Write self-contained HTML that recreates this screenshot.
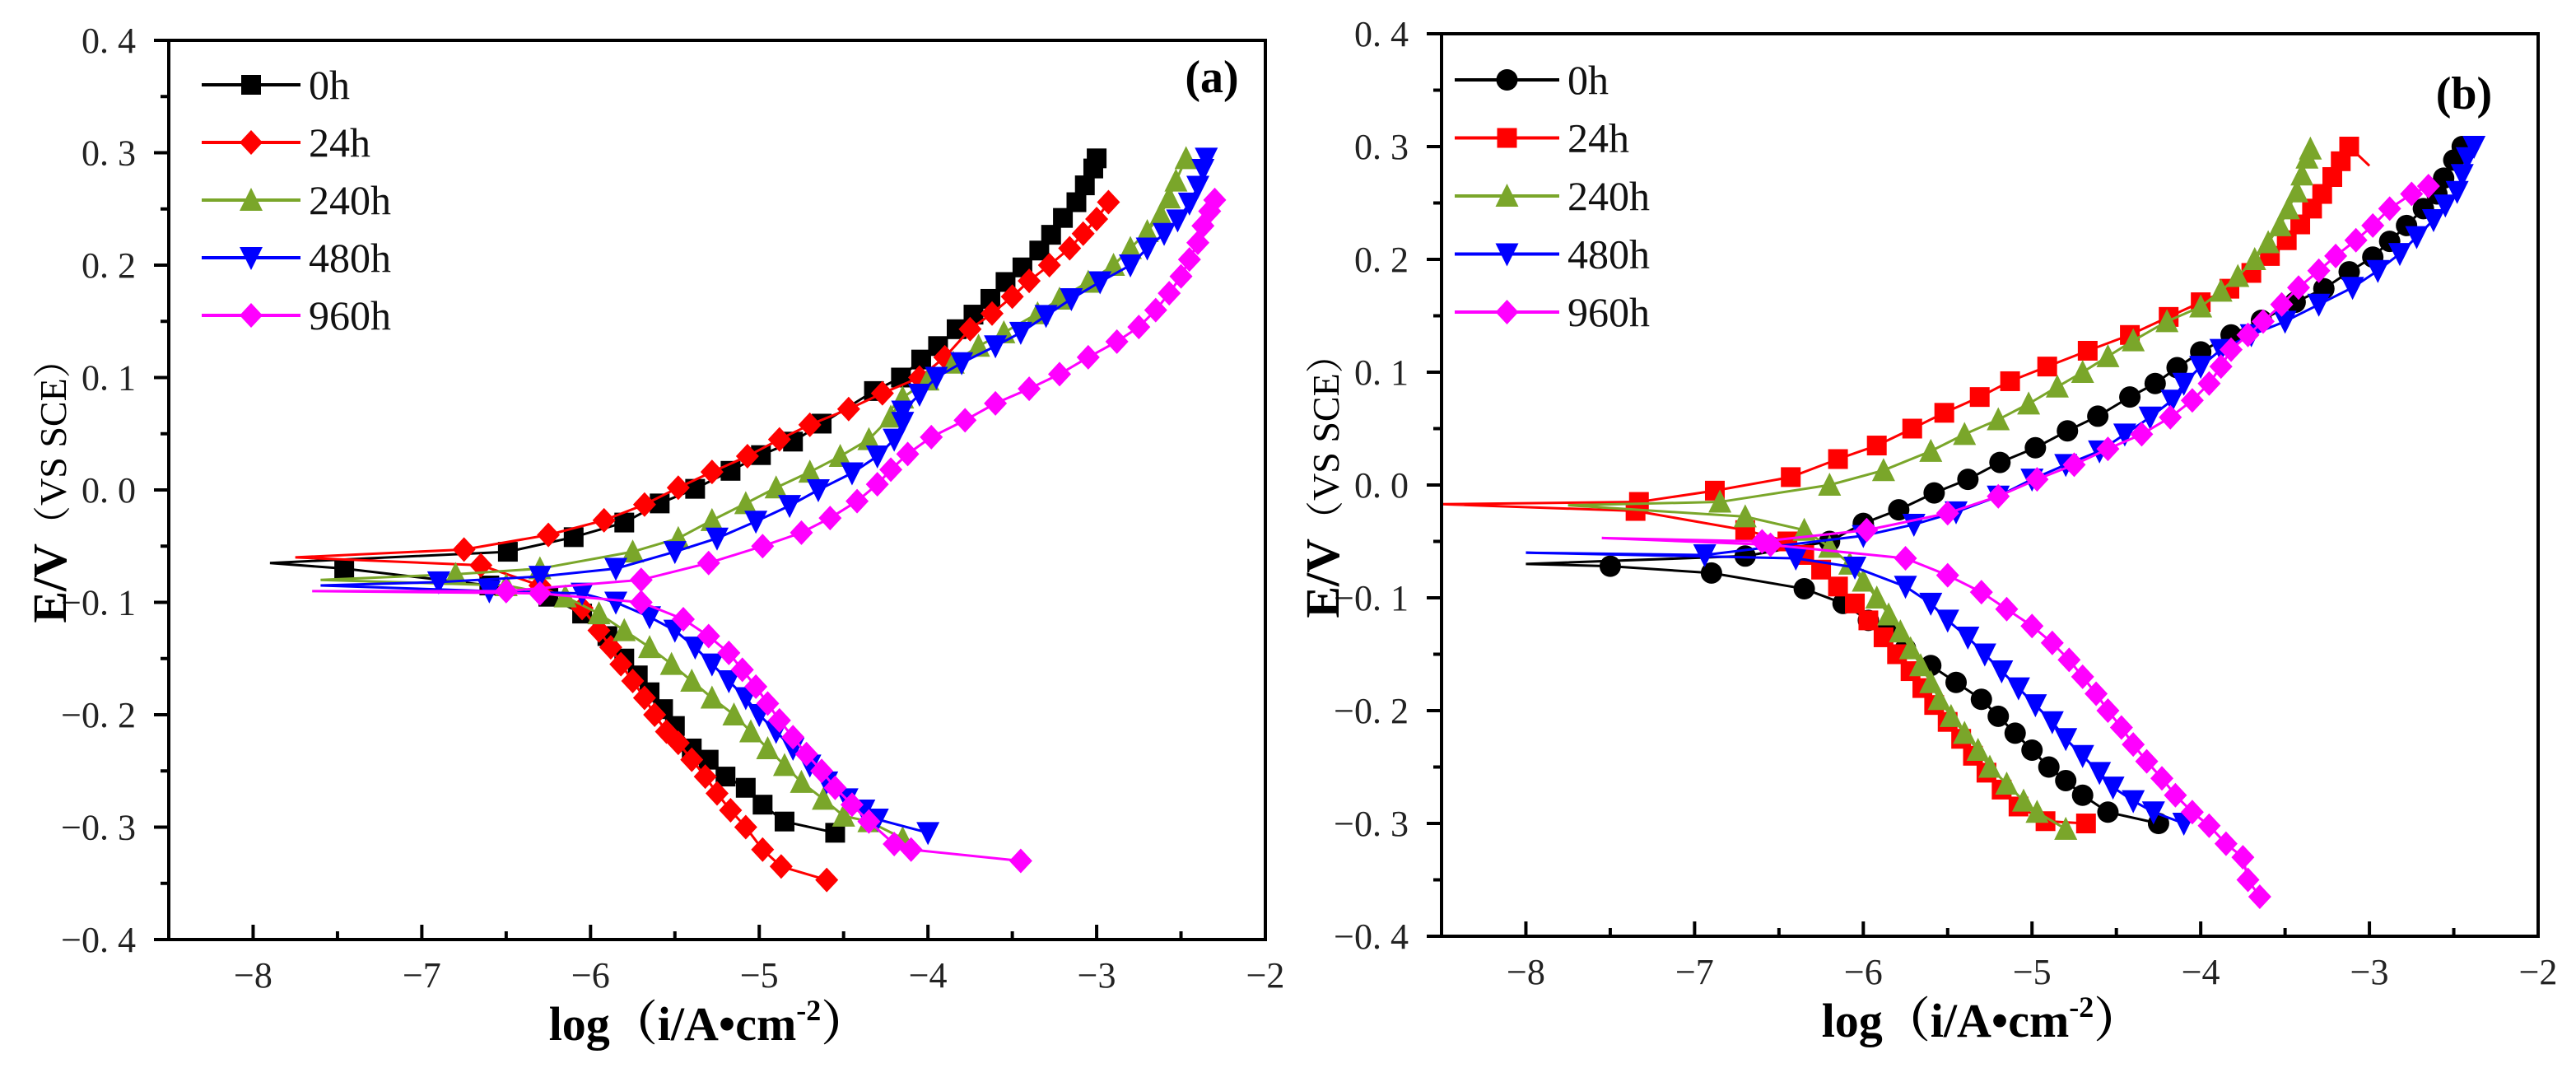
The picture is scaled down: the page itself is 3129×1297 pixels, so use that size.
<!DOCTYPE html>
<html><head><meta charset="utf-8"><style>
html,body{margin:0;padding:0;background:#fff;}
svg{display:block;font-family:"Liberation Serif","Noto Serif CJK SC",serif;}
</style></head><body>
<svg id="fig" width="3129" height="1297" viewBox="0 0 3129 1297" xmlns="http://www.w3.org/2000/svg"></svg>
<script>
// ---- data (log i, E) ----
const xTicks = [-8,-7,-6,-5,-4,-3,-2];
const yTicks = [-0.4,-0.3,-0.2,-0.1,0.0,0.1,0.2,0.3,0.4];
const yTickLabels = ["\u22120. 4","\u22120. 3","\u22120. 2","\u22120. 1","0. 0","0. 1","0. 2","0. 3","0. 4"];
const xTickLabels = ["\u22128","\u22127","\u22126","\u22125","\u22124","\u22123","\u22122"];
const seriesNames = ["0h","24h","240h","480h","960h"];

const a0h = [[-4.55,-0.305],[-4.85,-0.295],[-4.98,-0.28],[-5.08,-0.265],[-5.2,-0.255],[-5.3,-0.24],[-5.4,-0.23],[-5.5,-0.21],[-5.57,-0.195],[-5.65,-0.18],[-5.72,-0.165],[-5.8,-0.15],[-5.9,-0.13],[-6.05,-0.11],[-6.25,-0.095],[-6.6,-0.085],[-7.46,-0.07],[-7.9,-0.065],[-6.49,-0.055],[-6.1,-0.042],[-5.8,-0.029],[-5.59,-0.012],[-5.38,0.001],[-5.17,0.017],[-4.99,0.031],[-4.8,0.043],[-4.63,0.059],[-4.32,0.088],[-4.16,0.1],[-4.04,0.116],[-3.94,0.128],[-3.83,0.143],[-3.73,0.156],[-3.63,0.17],[-3.54,0.185],[-3.44,0.198],[-3.34,0.213],[-3.27,0.227],[-3.2,0.242],[-3.12,0.256],[-3.07,0.271],[-3.02,0.286],[-3.0,0.295]];
const a24h = [[-4.6,-0.347],[-4.87,-0.335],[-4.98,-0.32],[-5.08,-0.3],[-5.17,-0.285],[-5.25,-0.27],[-5.32,-0.255],[-5.4,-0.24],[-5.48,-0.225],[-5.55,-0.215],[-5.62,-0.2],[-5.68,-0.185],[-5.75,-0.17],[-5.82,-0.155],[-5.88,-0.14],[-5.95,-0.125],[-6.05,-0.105],[-6.3,-0.085],[-6.65,-0.067],[-7.75,-0.06],[-6.75,-0.053],[-6.25,-0.04],[-5.92,-0.027],[-5.68,-0.013],[-5.48,0.002],[-5.28,0.016],[-5.07,0.03],[-4.88,0.045],[-4.7,0.058],[-4.47,0.072],[-4.27,0.086],[-4.05,0.1],[-3.9,0.118],[-3.75,0.143],[-3.62,0.157],[-3.5,0.172],[-3.4,0.186],[-3.28,0.2],[-3.16,0.215],[-3.08,0.228],[-3.0,0.241],[-2.93,0.256]];
const a240h = [[-4.15,-0.31],[-4.35,-0.295],[-4.5,-0.29],[-4.62,-0.275],[-4.75,-0.26],[-4.85,-0.245],[-4.95,-0.23],[-5.05,-0.215],[-5.15,-0.2],[-5.28,-0.185],[-5.4,-0.17],[-5.52,-0.155],[-5.65,-0.14],[-5.8,-0.125],[-5.95,-0.11],[-6.15,-0.095],[-6.5,-0.085],[-7.6,-0.08],[-6.8,-0.075],[-6.3,-0.07],[-5.75,-0.055],[-5.48,-0.043],[-5.28,-0.027],[-5.08,-0.012],[-4.9,0.002],[-4.7,0.016],[-4.52,0.03],[-4.35,0.045],[-4.22,0.065],[-4.15,0.082],[-4.0,0.098],[-3.85,0.113],[-3.7,0.128],[-3.55,0.14],[-3.35,0.157],[-3.22,0.17],[-3.05,0.185],[-2.9,0.2],[-2.8,0.215],[-2.7,0.23],[-2.62,0.245],[-2.57,0.26],[-2.53,0.275],[-2.47,0.295]];
const a480h = [[-4.0,-0.305],[-4.3,-0.293],[-4.38,-0.285],[-4.48,-0.275],[-4.6,-0.26],[-4.7,-0.245],[-4.8,-0.23],[-4.9,-0.215],[-5.0,-0.2],[-5.08,-0.185],[-5.18,-0.17],[-5.28,-0.155],[-5.38,-0.14],[-5.5,-0.125],[-5.65,-0.113],[-5.85,-0.1],[-6.05,-0.092],[-6.6,-0.09],[-7.6,-0.085],[-6.9,-0.082],[-6.3,-0.077],[-5.85,-0.07],[-5.5,-0.055],[-5.25,-0.043],[-5.02,-0.028],[-4.82,-0.014],[-4.65,0.0],[-4.45,0.015],[-4.3,0.03],[-4.2,0.045],[-4.15,0.06],[-4.15,0.07],[-4.05,0.085],[-3.95,0.1],[-3.8,0.113],[-3.6,0.128],[-3.45,0.14],[-3.3,0.155],[-3.15,0.17],[-2.98,0.185],[-2.8,0.2],[-2.7,0.215],[-2.6,0.228],[-2.52,0.24],[-2.45,0.255],[-2.4,0.27],[-2.37,0.285],[-2.35,0.295]];
const a960h = [[-3.45,-0.33],[-4.1,-0.32],[-4.2,-0.315],[-4.35,-0.295],[-4.45,-0.28],[-4.55,-0.265],[-4.63,-0.25],[-4.72,-0.235],[-4.8,-0.22],[-4.88,-0.205],[-4.95,-0.19],[-5.02,-0.175],[-5.1,-0.16],[-5.18,-0.145],[-5.3,-0.13],[-5.45,-0.115],[-5.7,-0.1],[-6.3,-0.092],[-7.65,-0.09],[-6.5,-0.09],[-5.7,-0.08],[-5.3,-0.065],[-4.98,-0.05],[-4.75,-0.038],[-4.58,-0.025],[-4.42,-0.01],[-4.3,0.005],[-4.22,0.018],[-4.12,0.032],[-3.98,0.047],[-3.78,0.062],[-3.6,0.077],[-3.4,0.09],[-3.22,0.103],[-3.05,0.118],[-2.88,0.132],[-2.75,0.145],[-2.65,0.16],[-2.57,0.175],[-2.5,0.19],[-2.45,0.205],[-2.4,0.22],[-2.37,0.235],[-2.33,0.248],[-2.3,0.258]];

const b0h = [[-4.25,-0.3],[-4.55,-0.29],[-4.7,-0.275],[-4.8,-0.262],[-4.9,-0.25],[-5.0,-0.235],[-5.1,-0.22],[-5.2,-0.205],[-5.3,-0.19],[-5.45,-0.175],[-5.6,-0.16],[-5.75,-0.145],[-5.85,-0.13],[-5.97,-0.12],[-6.12,-0.105],[-6.35,-0.092],[-6.9,-0.078],[-7.5,-0.072],[-8.0,-0.07],[-6.7,-0.063],[-6.2,-0.05],[-6.0,-0.034],[-5.79,-0.022],[-5.58,-0.007],[-5.38,0.005],[-5.19,0.02],[-4.98,0.033],[-4.79,0.048],[-4.61,0.061],[-4.42,0.078],[-4.27,0.09],[-4.14,0.104],[-4.0,0.118],[-3.82,0.133],[-3.64,0.146],[-3.44,0.162],[-3.27,0.174],[-3.12,0.189],[-2.98,0.202],[-2.88,0.216],[-2.78,0.23],[-2.68,0.245],[-2.6,0.258],[-2.56,0.272],[-2.5,0.288],[-2.45,0.3]];
const b24h = [[-4.68,-0.3],[-4.92,-0.298],[-5.08,-0.285],[-5.18,-0.27],[-5.27,-0.255],[-5.35,-0.24],[-5.42,-0.225],[-5.5,-0.21],[-5.58,-0.195],[-5.65,-0.18],[-5.72,-0.165],[-5.8,-0.15],[-5.88,-0.135],[-5.97,-0.12],[-6.05,-0.105],[-6.15,-0.09],[-6.25,-0.075],[-6.35,-0.062],[-6.45,-0.05],[-6.7,-0.04],[-7.35,-0.023],[-8.5,-0.017],[-7.33,-0.015],[-6.88,-0.005],[-6.43,0.007],[-6.15,0.023],[-5.92,0.035],[-5.71,0.05],[-5.52,0.064],[-5.31,0.078],[-5.13,0.092],[-4.91,0.105],[-4.67,0.119],[-4.42,0.133],[-4.19,0.149],[-4.0,0.162],[-3.83,0.174],[-3.7,0.188],[-3.59,0.203],[-3.49,0.217],[-3.41,0.231],[-3.34,0.245],[-3.28,0.258],[-3.22,0.273],[-3.17,0.287],[-3.12,0.3],[-3.0,0.283]];
const b240h = [[-4.8,-0.305],[-4.97,-0.29],[-5.05,-0.28],[-5.15,-0.265],[-5.25,-0.25],[-5.32,-0.235],[-5.4,-0.22],[-5.48,-0.205],[-5.55,-0.19],[-5.6,-0.175],[-5.66,-0.16],[-5.72,-0.145],[-5.78,-0.13],[-5.85,-0.115],[-5.92,-0.1],[-6.0,-0.085],[-6.08,-0.07],[-6.2,-0.055],[-6.35,-0.04],[-6.7,-0.028],[-7.75,-0.018],[-6.85,-0.015],[-6.2,0.0],[-5.88,0.013],[-5.6,0.03],[-5.4,0.045],[-5.2,0.058],[-5.02,0.072],[-4.85,0.087],[-4.7,0.1],[-4.55,0.114],[-4.4,0.128],[-4.2,0.145],[-4.0,0.158],[-3.88,0.172],[-3.78,0.185],[-3.68,0.2],[-3.6,0.215],[-3.53,0.23],[-3.48,0.245],[-3.43,0.26],[-3.4,0.275],[-3.37,0.29],[-3.35,0.298]];
const b480h = [[-4.1,-0.3],[-4.28,-0.29],[-4.4,-0.28],[-4.52,-0.268],[-4.6,-0.255],[-4.7,-0.24],[-4.8,-0.225],[-4.88,-0.21],[-4.98,-0.195],[-5.08,-0.18],[-5.18,-0.165],[-5.28,-0.15],[-5.38,-0.135],[-5.5,-0.12],[-5.6,-0.105],[-5.75,-0.09],[-6.05,-0.073],[-6.4,-0.065],[-8.0,-0.06],[-6.94,-0.062],[-6.0,-0.045],[-5.7,-0.035],[-5.45,-0.024],[-5.2,-0.01],[-5.0,0.005],[-4.8,0.018],[-4.6,0.03],[-4.45,0.045],[-4.3,0.06],[-4.17,0.075],[-4.1,0.09],[-4.0,0.105],[-3.88,0.12],[-3.7,0.133],[-3.5,0.145],[-3.3,0.16],[-3.1,0.175],[-2.95,0.19],[-2.82,0.205],[-2.72,0.22],[-2.62,0.235],[-2.55,0.248],[-2.48,0.26],[-2.45,0.275],[-2.42,0.29],[-2.38,0.3]];
const b960h = [[-3.65,-0.365],[-3.72,-0.35],[-3.75,-0.33],[-3.85,-0.318],[-3.95,-0.302],[-4.05,-0.29],[-4.15,-0.275],[-4.23,-0.26],[-4.32,-0.245],[-4.4,-0.23],[-4.47,-0.215],[-4.55,-0.2],[-4.62,-0.185],[-4.7,-0.17],[-4.78,-0.155],[-4.88,-0.14],[-5.0,-0.125],[-5.15,-0.11],[-5.3,-0.095],[-5.5,-0.08],[-5.75,-0.065],[-6.55,-0.053],[-7.55,-0.047],[-6.6,-0.05],[-5.98,-0.04],[-5.5,-0.025],[-5.2,-0.01],[-4.97,0.005],[-4.75,0.018],[-4.55,0.032],[-4.35,0.045],[-4.18,0.06],[-4.05,0.075],[-3.95,0.09],[-3.88,0.105],[-3.82,0.12],[-3.72,0.133],[-3.63,0.145],[-3.52,0.16],[-3.42,0.175],[-3.3,0.19],[-3.2,0.203],[-3.08,0.217],[-2.98,0.23],[-2.88,0.245],[-2.75,0.258],[-2.65,0.265]];

const colors = ["#000000","#ff0000","#7aa62a","#0000ff","#ff00ff"];
const NS = "http://www.w3.org/2000/svg";
const svg = document.getElementById("fig");
function mk(tag, attrs, parent){ const e=document.createElementNS(NS,tag); for(const k in attrs) e.setAttribute(k,attrs[k]); (parent||svg).appendChild(e); return e; }

function marker(g, shape, cx, cy, color){
  const s = 13; let e;
  if(shape==="square"){ e = mk("rect",{x:cx-s+1,y:cy-s+1,width:2*s-2,height:2*s-2,fill:color},g); }
  else if(shape==="circle"){ e = mk("circle",{cx:cx,cy:cy,r:s,fill:color},g); }
  else if(shape==="up"){ e = mk("polygon",{points:`${cx},${cy-s-2} ${cx+s+1},${cy+s} ${cx-s-1},${cy+s}`,fill:color},g); }
  else if(shape==="down"){ e = mk("polygon",{points:`${cx-s-1},${cy-s} ${cx+s+1},${cy-s} ${cx},${cy+s+2}`,fill:color},g); }
  else { e = mk("polygon",{points:`${cx},${cy-s-2} ${cx+s+1},${cy} ${cx},${cy+s+2} ${cx-s-1},${cy}`,fill:color},g); }
  
  
  return e;
}

function panel(cfg){
  const {L,R,T,B,series,shapes,label,leg,id,noEnd} = cfg;
  const sx = v => L + (v - (-8.5)) / 6.5 * (R - L);
  const sy = v => B - (v - (-0.4)) / 0.8 * (B - T);
  const g = mk("g",{});
  
  
  series.forEach((pts,i)=>{
    const sg = mk("g",{},g);
    
    
    const pl = mk("polyline",{points:pts.map(p=>sx(p[0])+","+sy(p[1])).join(" "),fill:"none",stroke:colors[i],"stroke-width":3},sg);
    
    
    let minI = 0; pts.forEach((p,k)=>{ if(p[0]<pts[minI][0]) minI=k; });
    pts.forEach((p,k)=>{
      if(k===minI) return;
      if(noEnd && noEnd[i] && k===pts.length-1) return;
      marker(sg,shapes[i],sx(p[0]),sy(p[1]),colors[i]);
    });
  });
  const fr = mk("rect",{x:L,y:T,width:R-L,height:B-T,fill:"none",stroke:"#000","stroke-width":4},g);
  
  
  yTicks.forEach((v,i)=>{
    mk("line",{x1:L-18,x2:L,y1:sy(v),y2:sy(v),stroke:"#000","stroke-width":4},g);
    if(i<yTicks.length-1) mk("line",{x1:L-10,x2:L,y1:sy(v+0.05),y2:sy(v+0.05),stroke:"#000","stroke-width":4},g);
    const t = mk("text",{x:L-40,y:sy(v)+15,"text-anchor":"end","font-size":44,fill:"#222"},g);
    t.textContent = yTickLabels[i];
    
    
  });
  xTicks.forEach((v,i)=>{
    mk("line",{x1:sx(v),x2:sx(v),y1:B-18,y2:B,stroke:"#000","stroke-width":4},g);
    const m=v-0.5; if(m>-8.5) mk("line",{x1:sx(m),x2:sx(m),y1:B-10,y2:B,stroke:"#000","stroke-width":4},g);
    const t = mk("text",{x:sx(v),y:B+58,"text-anchor":"middle","font-size":44,fill:"#222"},g);
    t.textContent = xTickLabels[i];
    
    
  });
  const xt = mk("text",{x:(L+R)/2-10,y:B+122,"text-anchor":"middle","font-size":58,"font-weight":"bold"},g);
  xt.innerHTML = 'log（i/A•cm<tspan font-size="36" dy="-24">-2</tspan><tspan dy="24">）</tspan>';
  
  
  const yt = mk("text",{transform:`translate(${L-125},${(T+B)/2-10}) rotate(-90)`,"text-anchor":"middle","font-size":58,"font-weight":"bold"},g);
  yt.innerHTML = 'E/V<tspan font-weight="normal" font-size="46">（VS SCE）</tspan>';
  
  
  const pl = mk("text",{x:label[1],y:label[2],"text-anchor":"middle","font-size":56,"font-weight":"bold"},g);
  pl.textContent = label[0];
  
  
  const lg = mk("g",{},g);
  
  
  seriesNames.forEach((n,i)=>{
    const y = leg.y0 + i*leg.dy;
    const eg = mk("g",{},lg);
    
    
    mk("line",{x1:leg.x1,x2:leg.x2,y1:y,y2:y,stroke:colors[i],"stroke-width":4},eg);
    marker(eg,shapes[i],(leg.x1+leg.x2)/2,y,colors[i]);
    const t = mk("text",{x:leg.x2+10,y:y+17,"font-size":50,fill:"#111"},eg);
    t.textContent = n;
    
    
  });
}

panel({id:"panel-a",L:205,R:1537,T:49,B:1141,series:[a0h,a24h,a240h,a480h,a960h],
  shapes:["square","diamond","up","down","diamond"],label:["(a)",1472,112],
  leg:{x1:245,x2:365,y0:103,dy:70}});
panel({id:"panel-b",L:1751,R:3083,T:41,B:1137,series:[b0h,b24h,b240h,b480h,b960h],
  shapes:["circle","square","up","down","diamond"],label:["(b)",2993,132],
  leg:{x1:1767,x2:1894,y0:97,dy:70.5},noEnd:[false,true,false,false,false]});
</script>
</body></html>
